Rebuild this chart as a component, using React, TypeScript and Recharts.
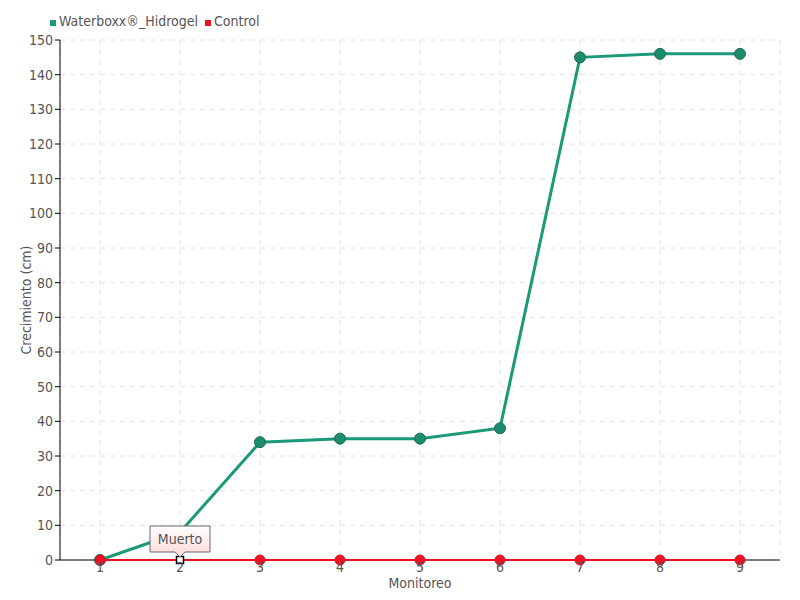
import { LineChart, Line, XAxis, YAxis, CartesianGrid, ReferenceLine } from "recharts";

const monitoreos = ["1", "2", "3", "4", "5", "6", "7", "8", "9"];
const waterboxx = [0, 8, 34, 35, 35, 38, 145, 146, 146];
const control = [0, 0, 0, 0, 0, 0, 0, 0, 0];
const yTicks = [0, 10, 20, 30, 40, 50, 60, 70, 80, 90, 100, 110, 120, 130, 140, 150];
const deadIndex = 1;
const deadLabel = "Muerto";

const data = monitoreos.map((m, i) => ({
  m,
  waterboxx: waterboxx[i],
  control: control[i],
}));

const FONT = "'DejaVu Sans Condensed', 'DejaVu Sans', sans-serif";
const GREEN = "#1a9a78";
const RED = "#ee1122";

const ControlDot = (props: any) => {
  const { cx, cy, index } = props;
  if (index === deadIndex) {
    return (
      <g key={"d" + index}>
        <rect x={cx - 3.5} y={cy - 3.5} width={7} height={7} fill="#fff" stroke="#000" strokeWidth={1.5} />
        <path
          d={`M${cx - 30},${cy - 34} H${cx + 30} V${cy - 8} H${cx + 5} L${cx},${cy - 3} L${cx - 5},${cy - 8} H${cx - 30} Z`}
          fill="url(#muertoGrad)"
          stroke="#666"
          strokeWidth={1}
        />
        <text x={cx} y={cy - 16} textAnchor="middle" fontSize={14} fill="#555" fontFamily={FONT}>
          {deadLabel}
        </text>
      </g>
    );
  }
  return <circle key={"d" + index} cx={cx} cy={cy} r={5} fill={RED} stroke="#dd1020" strokeWidth={1} />;
};

export default function App() {
  return (
    <div style={{ position: "absolute", left: 0, top: 0, width: 800, height: 600, background: "#fff", fontFamily: FONT }}>
      <div style={{ position: "absolute", left: 50, top: 13, display: "flex", alignItems: "center", fontSize: 14, color: "#555" }}>
        <span style={{ width: 6, height: 6, background: GREEN, display: "inline-block", marginRight: 3, marginTop: 4 }} />
        <span>Waterboxx®_Hidrogel</span>
        <span style={{ width: 6, height: 6, background: RED, display: "inline-block", marginLeft: 7, marginRight: 3, marginTop: 4 }} />
        <span>Control</span>
      </div>
      <LineChart width={800} height={600} data={data} margin={{ top: 40, right: 20, bottom: 0, left: 0 }}>
        <defs>
          <linearGradient id="muertoGrad" x1="0" y1="0" x2="0" y2="1">
            <stop offset="0%" stopColor="#ffffff" />
            <stop offset="100%" stopColor="#fcd8d8" />
          </linearGradient>
        </defs>
        <CartesianGrid stroke="#e2e2e2" strokeDasharray="5 5" />
        <XAxis
          dataKey="m"
          height={40}
          padding={{ left: 40, right: 40 }}
          axisLine={false}
          tickLine={false}
          tickSize={0}
          tickMargin={2}
          tick={{ fill: "#555", fontSize: 14, fontFamily: FONT }}
          label={{ value: "Monitoreo", position: "insideBottom", offset: 12, fill: "#555", fontSize: 14, fontFamily: FONT }}
        />
        <YAxis
          width={60}
          domain={[0, 150]}
          ticks={yTicks}
          interval={0}
          axisLine={{ stroke: "#000" }}
          tickLine={{ stroke: "#000" }}
          tickSize={5}
          tick={{ fill: "#555", fontSize: 14, fontFamily: FONT }}
          label={{ value: "Crecimiento (cm)", angle: -90, position: "insideLeft", offset: 26, fill: "#555", fontSize: 14, fontFamily: FONT, style: { textAnchor: "middle" } }}
        />
        <ReferenceLine y={0} stroke="#000" strokeWidth={1} />
        <Line
          type="linear"
          dataKey="waterboxx"
          stroke={GREEN}
          strokeWidth={3}
          dot={{ r: 5.5, fill: "#1d8c6c", stroke: "#176f55", strokeWidth: 1 }}
          isAnimationActive={false}
        />
        <Line
          type="linear"
          dataKey="control"
          stroke={RED}
          strokeWidth={2}
          dot={ControlDot}
          isAnimationActive={false}
        />
      </LineChart>
    </div>
  );
}
